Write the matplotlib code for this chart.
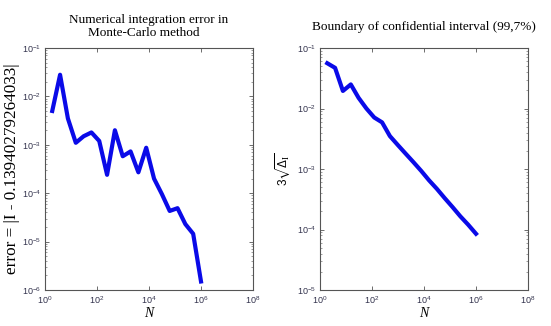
import matplotlib
matplotlib.use("Agg")
import matplotlib.pyplot as plt
from matplotlib.ticker import LogLocator, NullLocator

# sample sizes N (halving down from 1e6)
N = [1.9, 3.8, 7.6, 15.3, 30.5, 61, 122, 244, 488, 977, 1953, 3906, 7813,
     15625, 31250, 62500, 125000, 250000, 500000, 1000000]

# |I - I_exact| for each N
err = [5.0e-3, 2.8e-2, 3.5e-3, 1.1e-3, 1.5e-3, 1.8e-3, 1.2e-3, 2.4e-4,
       2.0e-3, 5.8e-4, 7.3e-4, 2.7e-4, 8.7e-4, 2.0e-4, 9.6e-5, 4.3e-5,
       4.9e-5, 2.3e-5, 1.45e-5, 1.5e-6]

# 3*sqrt(variance) bound for each N
bound = [5.6e-2, 4.7e-2, 1.95e-2, 2.5e-2, 1.5e-2, 1.0e-2, 7.1e-3, 5.9e-3,
         3.5e-3, 2.5e-3, 1.8e-3, 1.3e-3, 9.3e-4, 6.5e-4, 4.7e-4, 3.3e-4,
         2.35e-4, 1.65e-4, 1.2e-4, 8.5e-5]

plt.rcParams['font.family'] = ['Liberation Sans', 'DejaVu Sans']
plt.rcParams['mathtext.default'] = 'regular'

tick_col = '#33334d'
serif = 'Liberation Serif'

fig = plt.figure(figsize=(5.51, 3.26), dpi=100)
ax1 = fig.add_axes([45/551, 36/326, 208/551, 242/326])
ax2 = fig.add_axes([320/551, 36/326, 208/551, 242/326])

ax1.loglog(N, err, color='#0a0ae8', lw=3)
ax1.set_ylim(1e-6, 1e-1)
ax2.loglog(N, bound, color='#0a0ae8', lw=3)
ax2.set_ylim(1e-5, 1e-1)

for ax in (ax1, ax2):
    ax.set_xlim(1, 1e8)
    ax.set_xticks([1, 1e2, 1e4, 1e6, 1e8])
    ax.xaxis.set_minor_locator(NullLocator())
    ax.yaxis.set_minor_locator(LogLocator(base=10, subs=(2, 3, 4, 5, 6, 7, 8, 9)))
    ax.tick_params(which='both', direction='in', top=True, right=True,
                   labelsize=6.5, colors='#555555', labelcolor=tick_col, pad=3)
    ax.tick_params(which='major', length=3, width=0.6)
    ax.tick_params(which='minor', length=1.5, width=0.4)
    for s in ax.spines.values():
        s.set_color('#555555')
        s.set_linewidth(0.8)
    ax.set_xlabel('N', family=serif, style='italic', fontsize=10, labelpad=1)

ax1.set_title('Numerical integration error in\nMonte-Carlo method   ',
              family=serif, fontsize=9.5, linespacing=1.1, pad=9)
ax1.set_ylabel('error = |I - 0.13940279264033|', family=serif, fontsize=12.3,
               labelpad=1)

ax2.set_title('Boundary of confidential interval (99,7%)',
              family=serif, fontsize=9.5, pad=13)
ax2.set_ylabel(r'$3\sqrt{\Delta_{\rm I}}$', fontsize=8.5, labelpad=3,
               math_fontfamily='stix')

fig.savefig('out.png', dpi=100, facecolor='white')
